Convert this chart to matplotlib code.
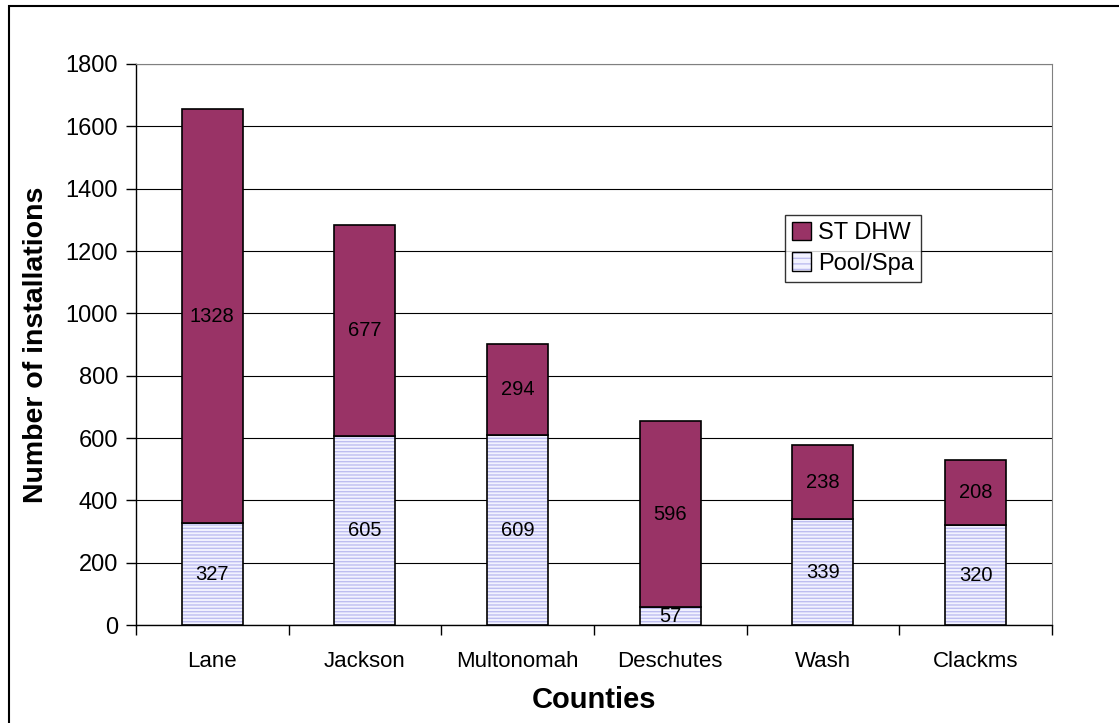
import matplotlib.pyplot as plt
from matplotlib.patches import Rectangle, Patch
from matplotlib.legend_handler import HandlerTuple
import numpy as np

plt.rcParams['font.family'] = ['Liberation Sans', 'DejaVu Sans']
plt.rcParams['hatch.linewidth'] = 1.0

counties = ['Lane', 'Jackson', 'Multonomah', 'Deschutes', 'Wash', 'Clackms']
pool_spa = [327, 605, 609, 57, 339, 320]
st_dhw = [1328, 677, 294, 596, 238, 208]

fig = plt.figure(figsize=(11.19, 7.23), dpi=100)
ax = fig.add_axes([0.1215, 0.1355, 0.8185, 0.776])

# outer chart frame, only left and top edges fall inside the canvas
fig.patches.append(Rectangle((9 / 1119, -0.1), 1.2, 1.1 - 6 / 723,
                             transform=fig.transFigure, fill=False, lw=1.5, ec='black'))

x = np.arange(len(counties))
w = 0.4

# striped fill first, then a plain black outline on top
ax.bar(x, pool_spa, w, color='#F2F2FF', edgecolor='#BDBDF0', lw=0,
       hatch='-----', zorder=3)
ax.bar(x, pool_spa, w, fill=False, edgecolor='black', lw=1.2, zorder=3)
ax.bar(x, st_dhw, w, bottom=pool_spa, color='#993366', edgecolor='black',
       lw=1.2, zorder=3)

for i in range(len(counties)):
    ax.text(x[i], pool_spa[i] / 2, str(pool_spa[i]), ha='center', va='center',
            fontsize=14.5, zorder=4)
    ax.text(x[i], pool_spa[i] + st_dhw[i] / 2, str(st_dhw[i]), ha='center',
            va='center', fontsize=14.5, zorder=4)

ax.set_xlim(-0.5, len(counties) - 0.5)
ax.set_ylim(0, 1800)
ax.set_yticks(range(0, 1801, 200))
ax.yaxis.grid(True, color='black', lw=0.8, zorder=0)

ax.set_xticks(x)
ax.set_xticklabels(counties, fontsize=16)
ax.tick_params(axis='x', length=0, pad=19)
ax.set_xticks(np.arange(-0.5, len(counties), 1), minor=True)
ax.tick_params(axis='x', which='minor', length=7, direction='out', width=1)
ax.tick_params(axis='y', labelsize=17, length=7, width=1, direction='out', pad=6)

ax.spines['top'].set_color('#808080')
ax.spines['right'].set_color('#808080')
ax.spines['left'].set_linewidth(1)
ax.spines['bottom'].set_linewidth(1)

ax.set_xlabel('Counties', fontsize=21, fontweight='bold', labelpad=10)
ax.set_ylabel('Number of installations', fontsize=20.5, fontweight='bold', labelpad=12)

h_dhw = Patch(facecolor='#993366', edgecolor='black', lw=1)
h_pool_fill = Patch(facecolor='#F2F2FF', edgecolor='#BDBDF0', hatch='---', lw=0)
h_pool_edge = Patch(fill=False, edgecolor='black', lw=1)
leg = ax.legend(handles=[h_dhw, (h_pool_fill, h_pool_edge)],
                labels=['ST DHW', 'Pool/Spa'],
                handler_map={tuple: HandlerTuple(ndivide=1, pad=0)},
                loc='upper left', bbox_to_anchor=(0.709, 0.731), fontsize=17,
                frameon=True, fancybox=False, edgecolor='black',
                handlelength=0.8, handleheight=0.8, handletextpad=0.3,
                borderpad=0.3, labelspacing=0.35, borderaxespad=0)
leg.get_frame().set_linewidth(1)

fig.savefig('out.png', dpi=100)
